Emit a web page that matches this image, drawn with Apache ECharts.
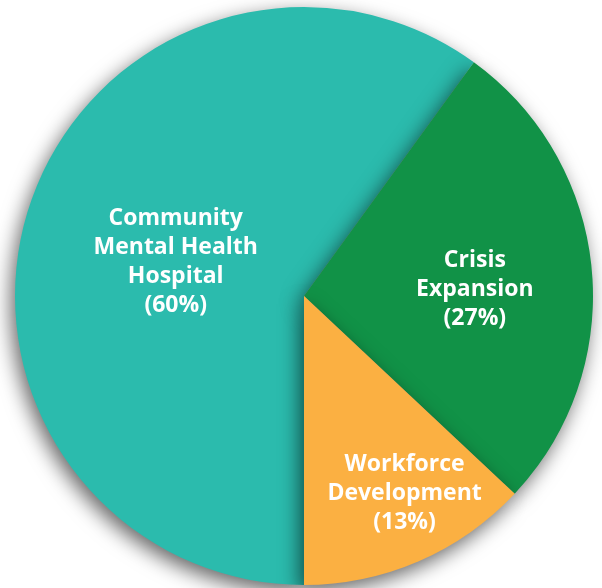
<!DOCTYPE html>
<html>
<head>
<meta charset="utf-8">
<script src="https://cdn.jsdelivr.net/npm/echarts@6/dist/echarts.min.js"></script>
<style>
html,body{margin:0;padding:0;background:#fff;}
#chart{width:602px;height:588px;}
</style>
</head>
<body>
<div id="chart"></div>
<script>
var categories = ['Community\nMental Health\nHospital', 'Crisis\nExpansion', 'Workforce\nDevelopment'];
var values = [60, 27, 13];
var colors = ['#2BBBAD', '#119247', '#FBB042'];
var labelOffsets = [[12, 12], [24, 7], [42, 62]];

var chart = echarts.init(document.getElementById('chart'));
var data = categories.map(function (c, i) {
  return {
    name: c,
    value: values[i],
    itemStyle: { color: colors[i] },
    label: { offset: labelOffsets[i] }
  };
});
chart.setOption({
  animation: false,
  series: [{
    type: 'pie',
    center: [304, 296],
    radius: [0, 289],
    startAngle: 270,
    clockwise: true,
    data: data,
    itemStyle: {
      borderWidth: 0,
      shadowBlur: 20,
      shadowColor: 'rgba(0,0,0,0.6)',
      shadowOffsetX: -4,
      shadowOffsetY: 7
    },
    label: {
      show: true,
      position: 'inside',
      color: '#ffffff',
      fontFamily: 'Open Sans',
      fontWeight: 'bold',
      fontSize: 23,
      lineHeight: 29,
      align: 'center',
      formatter: function (p) { return p.name + '\n(' + p.value + '%)'; }
    },
    labelLine: { show: false },
    emphasis: { disabled: true }
  }]
});
</script>
</body>
</html>
